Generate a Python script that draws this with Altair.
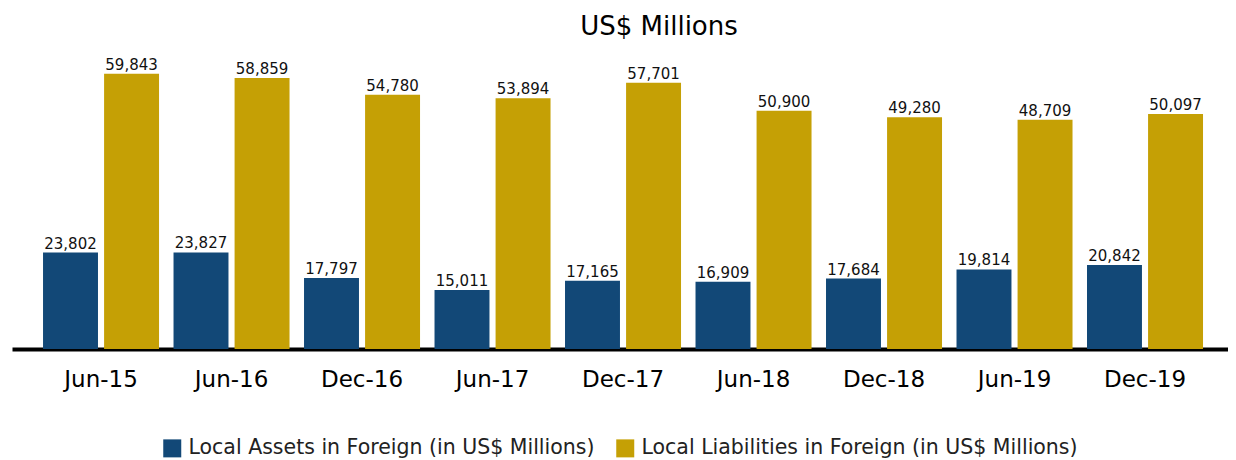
import altair as alt
import pandas as pd

periods = ["Jun-15", "Jun-16", "Dec-16", "Jun-17", "Dec-17", "Jun-18", "Dec-18", "Jun-19", "Dec-19"]
series_names = ["Local Assets in Foreign (in US$ Millions)", "Local Liabilities in Foreign (in US$ Millions)"]
assets = [23802, 23827, 17797, 15011, 17165, 16909, 17684, 19814, 20842]
liabilities = [59843, 58859, 54780, 53894, 57701, 50900, 49280, 48709, 50097]
colors = ["#124877", "#C5A005"]

rows = []
for p, a, l in zip(periods, assets, liabilities):
    rows.append({"period": p, "series": series_names[0], "value": a})
    rows.append({"period": p, "series": series_names[1], "value": l})
df = pd.DataFrame(rows)

W, H = 1216, 300
FONT = "DejaVu Sans"

x_enc = alt.X("period:N", sort=periods,
              scale=alt.Scale(paddingInner=0.111, paddingOuter=0.2146, align=0.554, round=False),
              axis=alt.Axis(title=None, labelAngle=0, ticks=False, domainColor="black",
                            domainWidth=4, labelFontSize=23, labelFont=FONT,
                            labelColor="black", labelPadding=19))
xoff_enc = alt.XOffset("series:N", sort=series_names,
                       scale=alt.Scale(domain=series_names, paddingInner=0.1, paddingOuter=0, round=False))
color_enc = alt.Color("series:N",
                      scale=alt.Scale(domain=series_names, range=colors),
                      legend=alt.Legend(title=None, orient="none", direction="horizontal",
                                        legendX=150, legendY=389, symbolType="square",
                                        symbolSize=324, symbolStrokeWidth=0, labelFontSize=20.5,
                                        labelFont=FONT, labelColor="#222", labelLimit=700,
                                        labelOffset=6, columnPadding=20))

domains = {series_names[0]: [1128, 71633], series_names[1]: [-6914, 65866]}

layers = []
for s in series_names:
    base = alt.Chart(df).transform_filter(alt.datum.series == s).encode(
        x=x_enc, xOffset=xoff_enc,
        y=alt.Y("value:Q", stack=None,
                scale=alt.Scale(domain=domains[s], zero=False, nice=False), axis=None),
    )
    bars = base.mark_bar().encode(color=color_enc, y2=alt.value(H))
    text = base.mark_text(baseline="alphabetic", dy=-4, fontSize=15, font=FONT, color="#111").encode(
        text=alt.Text("value:Q", format=","))
    layers += [bars, text]

chart = alt.layer(*layers).resolve_scale(y="independent").properties(
    width=W, height=H,
    title=alt.TitleParams("US$ Millions", fontSize=26, font=FONT, fontWeight="normal",
                          anchor="middle", dx=39, dy=25, offset=13, baseline="alphabetic",
                          color="black"),
    autosize=alt.AutoSizeParams(type="none"),
    padding={"left": 4, "top": 41, "right": 0, "bottom": 111},
    background="white",
).configure_view(stroke=None)

chart.save("out.html", embed_options={"renderer": "svg", "actions": False})
